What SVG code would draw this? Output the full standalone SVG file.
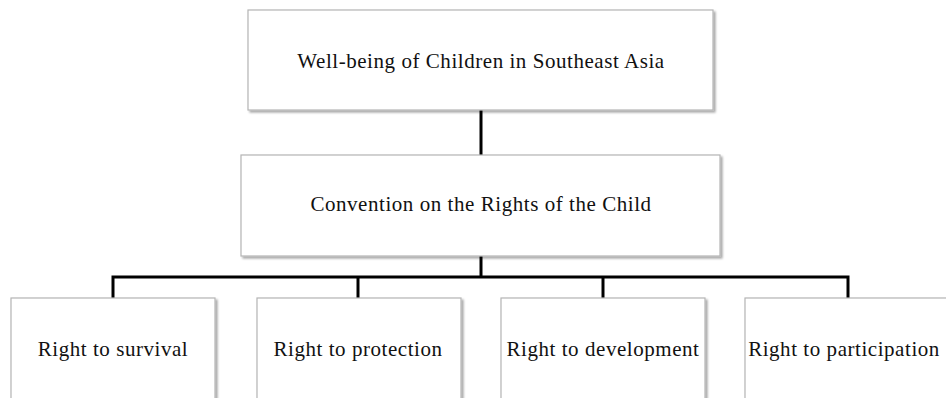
<svg xmlns="http://www.w3.org/2000/svg" width="946" height="398" viewBox="0 0 946 398">
<defs>
<filter id="sh" x="-5%" y="-5%" width="115%" height="120%">
<feGaussianBlur in="SourceAlpha" stdDeviation="1.2"/>
<feOffset dx="1.5" dy="2" result="b"/>
<feComponentTransfer><feFuncA type="linear" slope="0.35"/></feComponentTransfer>
<feMerge><feMergeNode/><feMergeNode in="SourceGraphic"/></feMerge>
</filter>
</defs>
<style>
.box{fill:#ffffff;stroke:#b4b4b4;stroke-width:1.2;filter:url(#sh)}
.lbl{font-family:"Liberation Serif","Times New Roman",serif;font-size:21px;letter-spacing:0.55px;fill:#111;text-anchor:middle}
.con{stroke:#000;stroke-width:3;fill:none}
</style>
<rect width="946" height="398" fill="#fff"/>
<g id="connectors">
<line class="con" x1="481" y1="110" x2="481" y2="155"/>
<line class="con" x1="481" y1="256" x2="481" y2="277"/>
<polyline class="con" points="113,298 113,277 848,277 848,298"/>
<line class="con" x1="358" y1="277" x2="358" y2="298"/>
<line class="con" x1="603" y1="277" x2="603" y2="298"/>
</g>
<g id="n-wellbeing">
<rect class="box" x="248" y="10" width="465" height="100"/>
<text class="lbl" x="481" y="68">Well-being of Children in Southeast Asia</text>
</g>
<g id="n-crc">
<rect class="box" x="241" y="155" width="479" height="101"/>
<text class="lbl" x="481" y="211">Convention on the Rights of the Child</text>
</g>
<g id="n-survival">
<rect class="box" x="11" y="298" width="204" height="110"/>
<text class="lbl" x="113" y="356">Right to survival</text>
</g>
<g id="n-protection">
<rect class="box" x="257" y="298" width="204" height="110"/>
<text class="lbl" x="358" y="356">Right to protection</text>
</g>
<g id="n-development">
<rect class="box" x="501" y="298" width="204" height="110"/>
<text class="lbl" x="603" y="356">Right to development</text>
</g>
<g id="n-participation">
<rect class="box" x="745" y="298" width="204" height="110"/>
<text class="lbl" x="844" y="356" letter-spacing="0.1">Right to participation</text>
</g>
</svg>
